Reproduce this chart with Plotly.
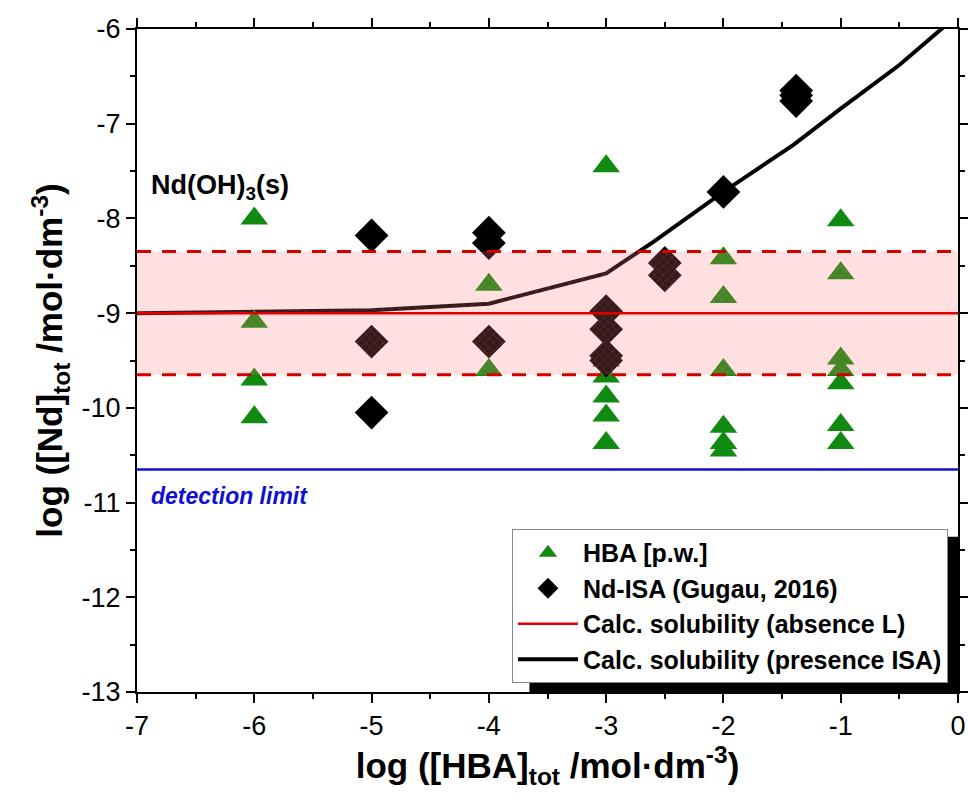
import plotly.graph_objects as go

# ---- data ----
hba_x = [-6, -6, -6, -6,
         -4, -4,
         -3, -3, -3, -3, -3, -3,
         -2, -2, -2, -2, -2, -2,
         -1, -1, -1, -1, -1, -1, -1]
hba_y = [-8.0, -9.09, -9.7, -10.1,
         -8.7, -9.6,
         -7.45, -9.5, -9.67, -9.88, -10.08, -10.37,
         -8.42, -8.83, -9.6, -10.2, -10.37, -10.45,
         -8.02, -8.58, -9.48, -9.6, -9.74, -10.18, -10.37]

isa_x = [-5, -5, -5,
         -4, -4, -4,
         -3, -3, -3, -3,
         -2.5, -2.5,
         -2,
         -1.38, -1.38, -1.38]
isa_y = [-8.18, -9.3, -10.05,
         -8.15, -8.26, -9.3,
         -8.98, -9.17, -9.45, -9.5,
         -8.47, -8.6,
         -7.72,
         -6.65, -6.7, -6.76]

calc_isa_x = [-7, -6, -5, -4, -3, -2.6, -2, -1.4, -1, -0.5, 0]
calc_isa_y = [-9.0, -8.99, -8.97, -8.9, -8.58, -8.25, -7.72, -7.22, -6.84, -6.38, -5.85]

calc_abs_x = [-7, 0]
calc_abs_y = [-9.0, -9.0]
band_upper = -8.35
band_lower = -9.65
detection_limit = -10.65

x_tickvals = [-7, -6, -5, -4, -3, -2, -1, 0]
x_ticktext = ["-7", "-6", "-5", "-4", "-3", "-2", "-1", "0"]
y_tickvals = [-13, -12, -11, -10, -9, -8, -7, -6]
y_ticktext = ["-13", "-12", "-11", "-10", "-9", "-8", "-7", "-6"]

FONT = "Arial, Liberation Sans, sans-serif"

fig = go.Figure()

fig.add_trace(go.Scatter(
    x=calc_isa_x, y=calc_isa_y, mode="lines",
    line=dict(color="black", width=4),
    name="Calc. solubility (presence ISA)", legendrank=4))

fig.add_trace(go.Scatter(
    x=hba_x, y=hba_y, mode="markers",
    marker=dict(symbol="triangle-up", size=24, color="#108a10", line=dict(width=0)),
    name="HBA [p.w.]", legendrank=1))

fig.add_trace(go.Scatter(
    x=isa_x, y=isa_y, mode="markers",
    marker=dict(symbol="diamond", size=26, color="black", line=dict(width=0)),
    name="Nd-ISA (Gugau, 2016)", legendrank=2))

# shaded uncertainty band (drawn above markers)
fig.add_trace(go.Scatter(
    x=[-7, 0, 0, -7, -7],
    y=[band_upper, band_upper, band_lower, band_lower, band_upper],
    mode="lines", fill="toself", line=dict(width=0),
    fillcolor="rgba(255,110,110,0.22)",
    fillpattern=dict(shape="x", bgcolor="rgba(255,110,110,0.22)",
                     fgcolor="rgba(255,255,255,0.35)", size=6, solidity=0.15),
    showlegend=False, hoverinfo="skip"))

fig.add_trace(go.Scatter(
    x=calc_abs_x, y=calc_abs_y, mode="lines",
    line=dict(color="#e00000", width=2.5),
    name="Calc. solubility (absence L)", legendrank=3))

for yb in (band_upper, band_lower):
    fig.add_trace(go.Scatter(
        x=calc_abs_x, y=[yb, yb], mode="lines",
        line=dict(color="#d40000", width=3, dash="14px,11px"),
        showlegend=False, hoverinfo="skip"))

fig.add_trace(go.Scatter(
    x=calc_abs_x, y=[detection_limit, detection_limit], mode="lines",
    line=dict(color="#1010d0", width=2.5),
    showlegend=False, hoverinfo="skip"))

axis_common = dict(
    showgrid=False, zeroline=False, showline=True, linecolor="black", linewidth=2,
    mirror="allticks", ticks="outside", ticklen=9, tickwidth=2, tickcolor="black",
    tickfont=dict(family=FONT, size=27, color="black"),
    tickmode="array", automargin=False, ticklabeloverflow="allow",
    minor=dict(ticks="outside", ticklen=5, tickwidth=2, tickcolor="black",
               tickmode="linear", tick0=-7.5, dtick=1),
)

fig.update_xaxes(range=[-7, 0], tickvals=x_tickvals, ticktext=x_ticktext,
                 title=dict(text="<b>log ([HBA]<sub>tot</sub> /mol·dm<sup>-3</sup>)</b>",
                            font=dict(family=FONT, size=35, color="black"), standoff=12),
                 **axis_common)
fig.update_yaxes(range=[-13, -6], tickvals=y_tickvals, ticktext=y_ticktext,
                 title=dict(text="<b>log ([Nd]<sub>tot</sub> /mol·dm<sup>-3</sup>)</b>",
                            font=dict(family=FONT, size=35, color="black"), standoff=8),
                 **axis_common)

# legend shadow
fig.add_shape(type="rect", xref="paper", yref="paper",
              x0=0.478, x1=1.0, y0=0.0, y1=0.234,
              fillcolor="black", line=dict(width=0), layer="above")

fig.add_annotation(x=-6.9, y=-7.67, xref="x", yref="y", xanchor="left", yanchor="middle",
                   text="<b>Nd(OH)<sub>3</sub>(s)</b>", showarrow=False,
                   font=dict(family=FONT, size=27, color="black"))
fig.add_annotation(x=-6.9, y=-10.93, xref="x", yref="y", xanchor="left", yanchor="middle",
                   text="<b><i>detection limit</i></b>", showarrow=False,
                   font=dict(family=FONT, size=23, color="#1010d0"))

fig.update_layout(
    width=968, height=803,
    margin=dict(l=137, r=10, t=29, b=111),
    plot_bgcolor="white", paper_bgcolor="white",
    font=dict(family=FONT, color="black"),
    legend=dict(x=0.9878, y=0.0136, xanchor="right", yanchor="bottom",
                bgcolor="white", bordercolor="#888888", borderwidth=1,
                font=dict(family=FONT, size=25, color="black"),
                itemwidth=60, tracegroupgap=0, traceorder="normal"),
)

# bold legend labels
for tr in fig.data:
    if tr.name:
        tr.name = "<b>" + tr.name + "</b>"

fig.write_html("out.html")
